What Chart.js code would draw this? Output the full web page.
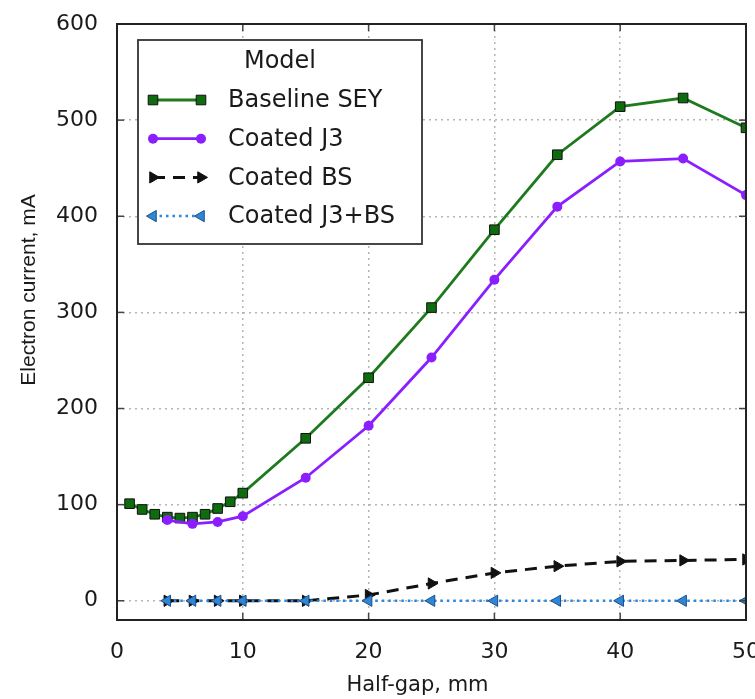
<!DOCTYPE html>
<html>
<head>
<meta charset="utf-8">
<script src="https://cdn.jsdelivr.net/npm/chart.js@4.4.1/dist/chart.umd.min.js"></script>
<style>
html, body { margin: 0; padding: 0; background: #fff; overflow: hidden; }
#wrap { width: 770px; height: 699px; }
</style>
</head>
<body>
<div id="wrap"><canvas id="plots" width="770" height="699"></canvas></div>
<script>
// Half-gap values (mm) for each group of series
var gapBaseline = [1, 2, 3, 4, 5, 6, 7, 8, 9, 10, 15, 20, 25, 30, 35, 40, 45, 50];
var gapCoated = [4, 6, 8, 10, 15, 20, 25, 30, 35, 40, 45, 50];
// Electron current, mA
var baselineSEY = [101, 95, 90, 87, 86, 87, 90, 96, 103, 112, 169, 232, 305, 386, 464, 514, 523, 492];
var coatedJ3 = [84, 80, 82, 88, 128, 182, 253, 334, 410, 457, 460, 422];
var coatedBS = [0, 0, 0, 0, 0, 6, 18, 29, 36, 41, 42, 43];
var coatedJ3BS = [0, 0, 0, 0, 0, 0, 0, 0, 0, 0, 0, 0];
// axis ticks and titles
var xTicks = [0, 10, 20, 30, 40, 50];
var yTicks = [0, 100, 200, 300, 400, 500, 600];
var xTitle = "Half-gap, mm";
var yTitle = "Electron current, mA";
var legendTitle = "Model";

function pts(xs, ys) {
  return xs.map(function (x, i) { return { x: x, y: ys[i] }; });
}

// frame with inward ticks, axis titles, boxed legend inside the plot
var frameAndLegend = {
  id: 'frameAndLegend',
  afterDatasetsDraw: function (chart) {
    var ctx = chart.ctx, a = chart.chartArea;
    var sx = chart.scales.x, sy = chart.scales.y;
    function line(x0, y0, x1, y1) { ctx.beginPath(); ctx.moveTo(x0, y0); ctx.lineTo(x1, y1); ctx.stroke(); }
    ctx.save();
    ctx.setLineDash([]);
    ctx.strokeStyle = '#444';
    ctx.lineWidth = 1.5;
    xTicks.forEach(function (v) {
      var px = sx.getPixelForValue(v);
      line(px, a.bottom, px, a.bottom - 7);
      line(px, a.top, px, a.top + 7);
    });
    yTicks.forEach(function (v) {
      var py = sy.getPixelForValue(v);
      line(a.left, py, a.left + 7, py);
      line(a.right, py, a.right - 7, py);
    });
    ctx.strokeStyle = '#222';
    ctx.lineWidth = 2;
    ctx.strokeRect(a.left, a.top, a.right - a.left, a.bottom - a.top);

    // axis titles (set off-centre like the original figure)
    ctx.fillStyle = '#1a1a1a';
    ctx.textBaseline = 'middle';
    ctx.textAlign = 'center';
    ctx.font = '21px "DejaVu Sans"';
    ctx.fillText(xTitle, (a.left + a.right) / 2 - 14, 686);
    ctx.save();
    ctx.translate(29, 290);
    ctx.rotate(-Math.PI / 2);
    ctx.font = '21px "Liberation Sans"';
    ctx.fillText(yTitle, 0, 0);
    ctx.restore();

    // legend box
    var bx = a.left + 21, by = a.top + 16, bw = 284, bh = 204;
    ctx.fillStyle = '#fff';
    ctx.fillRect(bx, by, bw, bh);
    ctx.strokeStyle = '#333';
    ctx.lineWidth = 1.8;
    ctx.strokeRect(bx, by, bw, bh);
    ctx.font = '24px "DejaVu Sans"';
    ctx.fillStyle = '#1a1a1a';
    ctx.fillText(legendTitle, bx + 142, by + 22);
    ctx.textAlign = 'left';
    chart.data.datasets.forEach(function (ds, i) {
      var y = by + 60 + i * 38.7;
      var x0 = bx + 15, x1 = bx + 63;
      ctx.strokeStyle = ds.borderColor;
      ctx.lineWidth = ds.borderWidth;
      ctx.setLineDash(ds.borderDash || []);
      line(x0, y, x1, y);
      ctx.setLineDash([]);
      [x0, x1].forEach(function (px) {
        ctx.fillStyle = ds.pointBackgroundColor;
        ctx.strokeStyle = ds.pointBorderColor;
        ctx.lineWidth = ds.pointBorderWidth;
        Chart.helpers.drawPoint(ctx, {
          pointStyle: ds.pointStyle, radius: ds.pointRadius,
          rotation: ds.pointRotation || 0, borderWidth: ds.pointBorderWidth
        }, px, y);
      });
      ctx.fillStyle = '#1a1a1a';
      ctx.fillText(ds.label, bx + 90, y + 1);
    });
    ctx.restore();
  }
};

var tickFont = { family: 'DejaVu Sans', size: 22 };

new Chart(document.getElementById('plots'), {
  type: 'line',
  data: {
    datasets: [{
      label: 'Baseline SEY',
      data: pts(gapBaseline, baselineSEY),
      borderColor: '#1d7a1d',
      borderWidth: 2.8,
      pointStyle: 'rect',
      pointRadius: 6.8,
      pointBackgroundColor: '#0e6b0e',
      pointBorderColor: '#111',
      pointBorderWidth: 1,
      order: 4
    }, {
      label: 'Coated J3',
      data: pts(gapCoated, coatedJ3),
      borderColor: '#8b1eff',
      borderWidth: 2.8,
      pointStyle: 'circle',
      pointRadius: 5,
      pointBackgroundColor: '#8b1eff',
      pointBorderColor: '#8b1eff',
      pointBorderWidth: 0,
      order: 3
    }, {
      label: 'Coated BS',
      data: pts(gapCoated, coatedBS),
      borderColor: '#111',
      borderWidth: 3,
      borderDash: [12, 8],
      pointStyle: 'triangle',
      pointRotation: 90,
      pointRadius: 6.5,
      pointBackgroundColor: '#111',
      pointBorderColor: '#111',
      pointBorderWidth: 1,
      order: 2
    }, {
      label: 'Coated J3+BS',
      data: pts(gapCoated, coatedJ3BS),
      borderColor: '#2b86dd',
      borderWidth: 2.5,
      borderDash: [2.5, 4],
      pointStyle: 'triangle',
      pointRotation: -90,
      pointRadius: 6.5,
      pointBackgroundColor: '#2f86d6',
      pointBorderColor: '#1a4f85',
      pointBorderWidth: 1,
      order: 1
    }]
  },
  options: {
    responsive: false,
    animation: false,
    layout: { padding: { left: 0, right: 24, top: 24, bottom: 0 } },
    plugins: { legend: { display: false }, tooltip: { enabled: false } },
    scales: {
      x: {
        type: 'linear', min: 0, max: 50,
        afterBuildTicks: function (s) { s.ticks = xTicks.map(function (v) { return { value: v }; }); },
        afterFit: function (s) { s.height = 79; s.paddingLeft = 0; s.paddingRight = 0; },
        grid: { color: '#b5b5b5', lineWidth: 1.5, drawTicks: false },
        border: { display: false, dash: [2, 4] },
        ticks: { padding: 19, color: '#1a1a1a', font: tickFont, maxRotation: 0, autoSkip: false },
        title: { display: false }
      },
      y: {
        type: 'linear', min: -20, max: 600,
        afterBuildTicks: function (s) { s.ticks = yTicks.map(function (v) { return { value: v }; }); },
        afterFit: function (s) { s.width = 117; s.paddingTop = 0; s.paddingBottom = 0; },
        grid: { color: '#b5b5b5', lineWidth: 1.5, drawTicks: false },
        border: { display: false, dash: [2, 4] },
        ticks: { padding: 19, color: '#1a1a1a', font: tickFont },
        title: { display: false }
      }
    }
  },
  plugins: [frameAndLegend]
});
</script>
</body>
</html>
